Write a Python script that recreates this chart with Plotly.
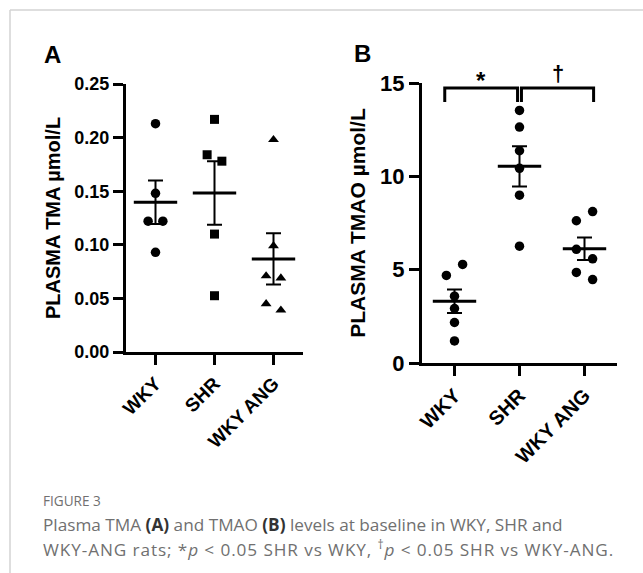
import plotly.graph_objects as go
import numpy as np

W, H = 643, 573

groups = ["WKY", "SHR", "WKY ANG"]

# Panel A: plasma TMA (umol/L)
tma_wky = [0.213, 0.148, 0.122, 0.122, 0.093]
tma_shr = [0.217, 0.184, 0.178, 0.110, 0.0525]
tma_ang = [0.198, 0.099, 0.071, 0.069, 0.045, 0.039]

# Panel B: plasma TMAO (umol/L)
tmao_wky = [5.28, 4.69, 3.58, 2.92, 2.17, 1.18]
tmao_shr = [13.53, 12.64, 11.37, 10.43, 8.99, 6.26]
tmao_ang = [8.11, 7.62, 6.09, 5.58, 4.85, 4.47]

# horizontal spread of points within a group (-1 left, 0 centre, 1 right)
spread_tma = [[0, 0, -1, 1, 0], [0, -1, 1, 0, 0], [0, 0, -1, 1, -1, 1]]
spread_tmao = [[1, -1, 0, 0, 0, 0], [0, 0, 0, 0, 0, 0], [1, -1, -1, 1, -1, 1]]

ticks_a = [0.00, 0.05, 0.10, 0.15, 0.20, 0.25]
ticks_b = [0, 5, 10, 15]

FONT = "Liberation Sans, Arial, sans-serif"


def px2paper_x(p):
    return p / W


def px2paper_y(p):
    return 1 - p / H


fig = go.Figure()


def add_panel(data, spread, symbols, sizes, xa, ya, step):
    for i, (vals, sp) in enumerate(zip(data, spread)):
        xs = [i + s * step for s in sp]
        fig.add_trace(go.Scatter(
            x=xs, y=vals, mode="markers", xaxis=xa, yaxis=ya,
            marker=dict(symbol=symbols[i], size=sizes[i], color="black"),
            showlegend=False, hoverinfo="y", cliponaxis=False))
        arr = np.array(vals)
        m = arr.mean()
        sem = arr.std(ddof=1) / np.sqrt(len(arr))
        fig.add_trace(go.Scatter(
            x=[i], y=[m], mode="markers", xaxis=xa, yaxis=ya,
            marker=dict(symbol="line-ew", size=31,
                        line=dict(width=3, color="black"), color="black"),
            error_y=dict(type="data", array=[sem], visible=True,
                         color="black", thickness=2, width=7.5),
            showlegend=False, hoverinfo="y", cliponaxis=False))


add_panel([tma_wky, tma_shr, tma_ang], spread_tma,
          ["circle", "square", "triangle-up"], [9.5, 9, 9.5], "x", "y", 0.125)
add_panel([tmao_wky, tmao_shr, tmao_ang], spread_tmao,
          ["circle", "circle", "circle"], [9.5, 9.5, 9.5], "x2", "y2", 0.125)

# significance brackets in panel B
comparisons = [(0, 1, "*"), (1, 2, "†")]
br_top, br_leg = 14.73, 0.75
for a, b, sym in comparisons:
    x0 = a - 0.15 if a == 0 else a + 0.03
    x1 = b - 0.03 if b == 1 else b + 0.14
    fig.add_trace(go.Scatter(
        x=[x0, x0, x1, x1], y=[br_top - br_leg, br_top, br_top, br_top - br_leg],
        mode="lines", line=dict(color="black", width=3), xaxis="x2", yaxis="y2",
        showlegend=False, hoverinfo="skip", cliponaxis=False))
    fig.add_annotation(x=(x0 + x1) / 2, y=br_top, xref="x2", yref="y2",
                       text="<b>%s</b>" % sym, showarrow=False, yanchor="bottom",
                       xanchor="center", yshift=-8 if sym == "*" else 0,
                       font=dict(family=FONT, size=24 if sym == "*" else 22, color="black"))

axis_common = dict(showline=True, linewidth=3, linecolor="black", ticks="outside",
                   ticklen=10, tickwidth=2.5, tickcolor="black", showgrid=False,
                   zeroline=False, mirror=False, automargin=False)

fig.update_layout(
    template="none",
    width=W, height=H, autosize=False, paper_bgcolor="white", plot_bgcolor="white",
    margin=dict(l=0, r=0, t=0, b=0, pad=0),
    xaxis=dict(domain=[px2paper_x(126), px2paper_x(303)], range=[-0.5, 2.5],
               tickvals=[0, 1, 2], ticktext=groups, tickangle=-45, anchor="y",
               tickfont=dict(family=FONT, size=19, color="black", weight=700),
               **axis_common),
    yaxis=dict(domain=[px2paper_y(352), px2paper_y(84)], range=[0, 0.25],
               tickvals=ticks_a, ticktext=["%.2f" % t for t in ticks_a], anchor="x",
               tickfont=dict(family=FONT, size=18, color="black", weight=700),
               title=dict(text="PLASMA TMA µmol/L", standoff=9,
                          font=dict(family=FONT, size=20, color="black", weight=700)),
               **axis_common),
    xaxis2=dict(domain=[px2paper_x(422), px2paper_x(617)], range=[-0.5, 2.5],
                tickvals=[0, 1, 2], ticktext=groups, tickangle=-45, anchor="y2",
                tickfont=dict(family=FONT, size=20, color="black", weight=700),
                **axis_common),
    yaxis2=dict(domain=[px2paper_y(363), px2paper_y(83)], range=[0, 15],
                tickvals=ticks_b, ticktext=[str(t) for t in ticks_b], anchor="x2",
                tickfont=dict(family=FONT, size=22, color="black", weight=700),
                title=dict(text="PLASMA TMAO µmol/L", standoff=9,
                           font=dict(family=FONT, size=21, color="black", weight=700)),
                **axis_common),
)

# panel letters
fig.add_annotation(x=px2paper_x(52), y=px2paper_y(55), xref="paper", yref="paper",
                   xanchor="center", yanchor="middle",
                   text="<b>A</b>", showarrow=False,
                   font=dict(family=FONT, size=24, color="black"))
fig.add_annotation(x=px2paper_x(362), y=px2paper_y(54), xref="paper", yref="paper",
                   xanchor="center", yanchor="middle",
                   text="<b>B</b>", showarrow=False,
                   font=dict(family=FONT, size=24, color="black"))

# page frame
fig.add_shape(type="line", xref="paper", yref="paper", x0=px2paper_x(10), x1=1,
              y0=px2paper_y(10), y1=px2paper_y(10), line=dict(color="#d3d3d3", width=1.5))
fig.add_shape(type="line", xref="paper", yref="paper", x0=px2paper_x(10), x1=px2paper_x(10),
              y0=px2paper_y(10), y1=0, line=dict(color="#d3d3d3", width=1.5))

# caption
CAP = "Open Sans, Noto Sans, sans-serif"
fig.add_annotation(x=px2paper_x(41), y=px2paper_y(500), xref="paper", yref="paper",
                   xanchor="left", yanchor="middle", showarrow=False,
                   text="FIGURE 3", font=dict(family=CAP, size=13.6, color="#707070"))
fig.add_annotation(x=px2paper_x(41), y=px2paper_y(524), xref="paper", yref="paper",
                   xanchor="left", yanchor="middle", showarrow=False,
                   text="Plasma TMA <b><span style='color:#333'>(A)</span></b> and TMAO "
                        "<b><span style='color:#333'>(B)</span></b> levels at baseline in WKY, SHR and",
                   font=dict(family=CAP, size=17.2, color="#707070"))
fig.add_annotation(x=px2paper_x(41), y=px2paper_y(548), xref="paper", yref="paper",
                   xanchor="left", yanchor="middle", showarrow=False,
                   text="<span style='letter-spacing:0.9px'>WKY-ANG rats; *<i>p</i> &lt; 0.05 SHR vs WKY, "
                        "<sup>†</sup><i>p</i> &lt; 0.05 SHR vs WKY-ANG.</span>",
                   font=dict(family=CAP, size=17.2, color="#707070"))

fig.write_html("out.html", config={"displayModeBar": False},
               post_script="document.body.style.margin='0';document.body.style.padding='0';"
                           "document.documentElement.style.overflow='hidden';")
